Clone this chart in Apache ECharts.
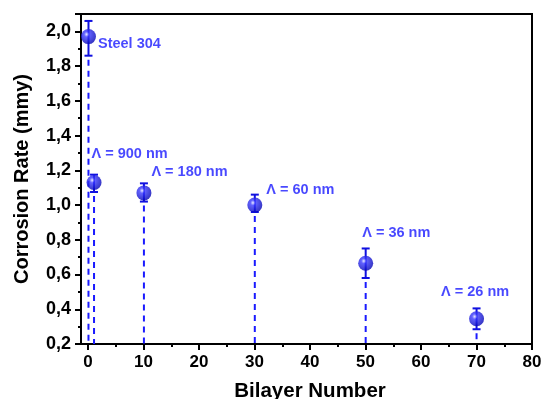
<!DOCTYPE html>
<html>
<head>
<meta charset="utf-8">
<script src="https://cdn.jsdelivr.net/npm/echarts@6/dist/echarts.min.js"></script>
<style>html,body{margin:0;padding:0;background:#fff}#c{width:543px;height:399px}</style>
</head>
<body>
<div id="c"></div>
<script>
var bilayers = [0, 1, 10, 30, 50, 70];
var rates = [1.97, 1.13, 1.07, 1.00, 0.665, 0.345];
var errLow = [1.86, 1.075, 1.02, 0.96, 0.58, 0.285];
var errHigh = [2.06, 1.175, 1.125, 1.06, 0.75, 0.405];
var pointLabels = ['Steel 304', '\u039B = 900 nm', '\u039B = 180 nm', '\u039B = 60 nm', '\u039B = 36 nm', '\u039B = 26 nm'];
var xTicks = [0, 10, 20, 30, 40, 50, 60, 70, 80];
var yTicks = [0.2, 0.4, 0.6, 0.8, 1.0, 1.2, 1.4, 1.6, 1.8, 2.0];

var labelOffsets = [[-3, 7], [-15, -28], [-5, -21], [-1, -15], [-16, -30], [-48, -27]];
var BLUE = '#1a1aff';
var FONT = '"Liberation Sans", Arial, sans-serif';

var chart = echarts.init(document.getElementById('c'), null, {renderer: 'canvas'});

var scatterData = bilayers.map(function (x, i) {
  return {
    value: [x, rates[i]],
    label: {offset: labelOffsets[i]}
  };
});
var errData = bilayers.map(function (x, i) { return [x, errLow[i], errHigh[i]]; });
var yMin = yTicks[0];
var dropData = bilayers.map(function (x, i) { return [x, errLow[i], yMin]; });

var option = {
  animation: false,
  backgroundColor: '#fff',
  grid: [
    {left: 81, right: 11, top: 14, bottom: 55, show: true, borderColor: '#000', borderWidth: 2, backgroundColor: 'transparent', outerBoundsMode: 'none', containLabel: false},
    {left: 88, right: 11, top: 14, bottom: 55, outerBoundsMode: 'none', containLabel: false}
  ],
  xAxis: [
    {
      type: 'value', gridIndex: 0, min: -1.35, max: xTicks[xTicks.length - 1],
      axisLine: {show: true, onZero: false, lineStyle: {color: '#000', width: 2}},
      axisTick: {show: false}, axisLabel: {show: false}, splitLine: {show: false}
    },
    {
      type: 'value', gridIndex: 1, min: xTicks[0], max: xTicks[xTicks.length - 1], interval: 10,
      axisLine: {show: false},
      axisTick: {show: true, length: 6, lineStyle: {color: '#000', width: 2}},
      minorTick: {show: true, splitNumber: 2, length: 3, lineStyle: {color: '#000', width: 2}},
      axisLabel: {color: '#000', fontFamily: FONT, fontWeight: 'bold', fontSize: 17, margin: 10},
      splitLine: {show: false},
      name: 'Bilayer Number', nameLocation: 'middle', nameGap: 37,
      nameTextStyle: {color: '#000', fontFamily: FONT, fontWeight: 'bold', fontSize: 20.5}
    }
  ],
  yAxis: [
    {
      type: 'value', gridIndex: 0, min: yMin, max: 2.1, interval: 0.2,
      axisLine: {show: true, onZero: false, lineStyle: {color: '#000', width: 2}},
      axisTick: {show: true, length: 6, lineStyle: {color: '#000', width: 2}},
      minorTick: {show: true, splitNumber: 2, length: 3, lineStyle: {color: '#000', width: 2}},
      axisLabel: {
        color: '#000', fontFamily: FONT, fontWeight: 'bold', fontSize: 18, margin: 10,
        formatter: function (v) {
          if (v > yTicks[yTicks.length - 1] + 0.01) return '';
          return v.toFixed(1).replace('.', ',');
        }
      },
      splitLine: {show: false},
      name: 'Corrosion Rate (mmy)', nameLocation: 'middle', nameGap: 49,
      nameTextStyle: {color: '#000', fontFamily: FONT, fontWeight: 'bold', fontSize: 20}
    },
    {
      type: 'value', gridIndex: 1, min: yMin, max: 2.1, show: false
    }
  ],
  series: [
    {
      type: 'custom', xAxisIndex: 0, yAxisIndex: 0, z: 1,
      data: dropData,
      renderItem: function (params, api) {
        var p1 = api.coord([api.value(0), api.value(1)]);
        var p2 = api.coord([api.value(0), api.value(2)]);
        return {
          type: 'line',
          shape: {x1: p1[0], y1: p1[1] + 4, x2: p2[0], y2: p2[1]},
          style: {stroke: BLUE, lineWidth: 2, lineDash: [6, 5]}
        };
      }
    },
    {
      type: 'custom', xAxisIndex: 0, yAxisIndex: 0, z: 2,
      data: errData,
      renderItem: function (params, api) {
        var lo = api.coord([api.value(0), api.value(1)]);
        var hi = api.coord([api.value(0), api.value(2)]);
        var w = 4;
        var st = {stroke: '#1010e0', lineWidth: 2};
        return {
          type: 'group',
          children: [
            {type: 'line', shape: {x1: lo[0], y1: lo[1], x2: hi[0], y2: hi[1]}, style: st},
            {type: 'line', shape: {x1: lo[0] - w, y1: lo[1], x2: lo[0] + w, y2: lo[1]}, style: st},
            {type: 'line', shape: {x1: hi[0] - w, y1: hi[1], x2: hi[0] + w, y2: hi[1]}, style: st}
          ]
        };
      }
    },
    {
      type: 'scatter', xAxisIndex: 0, yAxisIndex: 0, z: 3,
      symbol: 'circle', symbolSize: 15,
      itemStyle: {
        color: {
          type: 'radial', x: 0.38, y: 0.35, r: 0.7,
          colorStops: [
            {offset: 0, color: '#e4e6ff'},
            {offset: 0.25, color: '#3a3aff'},
            {offset: 1, color: '#0000b0'}
          ]
        }
      },
      label: {
        show: true, position: 'right', distance: 5,
        color: BLUE, fontFamily: FONT, fontWeight: 'bold', fontSize: 14.5,
        formatter: function (p) { return pointLabels[p.dataIndex]; }
      },
      data: scatterData
    }
  ]
};
chart.setOption(option);
</script>
</body>
</html>
